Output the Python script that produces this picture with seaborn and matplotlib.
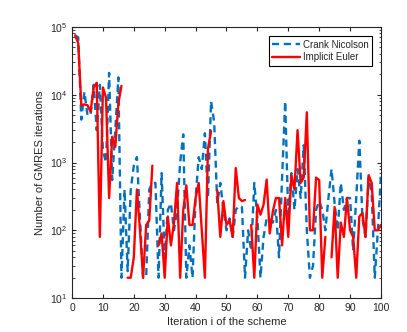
import numpy as np
import pandas as pd
import seaborn as sns
import matplotlib.pyplot as plt

nan = np.nan
iterations = list(range(1, 101))

# Crank Nicolson
crank_nicolson = [
    75000, 70000, 4300, 11000, 5000, 5000, 14000, 3000, 14000, 1500,
    1000, 21000, 550, 3000, 18000, 20, 400, 25, 400, 900,
    1200, 150, 20, 20, 400, 500, 500, 20, 700, 40,
    200, 250, 100, 200, 1000, 2600, 20, 60, 20, 300,
    1200, 800, 2700, 300, 8000, 4000, 250, 500, 200, 100,
    150, 80, 200, 230, 220, 20, 100, 50, 500, 150,
    20, 80, 150, 150, 130, 200, 40, 600, 8000, 150,
    700, 200, 800, 300, 1800, 100, 20, 30, 200, 270,
    200, 100, 300, 800, 250, 100, 500, 200, 300, 300,
    50, 300, 2100, 150, 80, 600, 350, 20, 100, 650,
]

# Implicit Euler, gaps where the line breaks
implicit_euler = [
    75000, 58000, 7000, 7200, 7000, 5600, 12800, 15000, 80, 12800,
    9000, 300, 2400, 1700, 7500, 13500, nan, 20, 20, 40,
    400, 100, 20, 120, 140, 900, nan, 60, 90, 20,
    160, 60, 130, 500, 20, 200, 460, 120, 120, 300,
    500, 100, 20, 1600, 2900, nan, 390, 80, 270, 120,
    140, 80, 830, 300, 270, 280, nan, 120, 20, 240,
    170, 240, 560, 90, 190, 300, 300, 60, 300, 80,
    650, 400, 3000, 500, 600, 5500, 100, 100, 600, 550,
    20, 80, nan, 40, 220, 20, 130, 80, 300, 100,
    80, 20, 160, 180, 80, 650, 500, 100, 100, 120,
]

frames = []
for name, vals in [("Crank Nicolson", crank_nicolson), ("Implicit Euler", implicit_euler)]:
    d = pd.DataFrame({"it": iterations, "gmres": vals, "scheme": name})
    # separate segment id for every run between missing values
    d["seg"] = d["gmres"].isna().cumsum()
    frames.append(d.dropna())
df = pd.concat(frames, ignore_index=True)

sns.set_style("ticks")
plt.rcParams["font.family"] = ["Liberation Sans", "DejaVu Sans"]
plt.rcParams["mathtext.fontset"] = "custom"
plt.rcParams["mathtext.rm"] = "Liberation Sans"

fig, ax = plt.subplots(figsize=(4.07, 3.32), dpi=100)
fig.subplots_adjust(left=0.177, right=0.936, bottom=0.102, top=0.919)

sns.lineplot(data=df, x="it", y="gmres", hue="scheme", style="scheme",
             units="seg", estimator=None, ax=ax,
             palette={"Crank Nicolson": "#0072BD", "Implicit Euler": "#FF0000"},
             dashes={"Crank Nicolson": (3, 2), "Implicit Euler": ""},
             linewidth=1.7)

ax.set_yscale("log")
ax.set_xlim(0, 100)
ax.set_ylim(10, 1e5)
ax.set_xticks(range(0, 101, 10))
ax.tick_params(which="both", direction="in", top=True, right=True, labelsize=7.5)
ax.tick_params(which="major", length=3)
ax.tick_params(which="minor", length=1.8)
for s in ax.spines.values():
    s.set_linewidth(0.8)

ax.set_xlabel("Iteration i of the scheme", fontsize=8, labelpad=3)
ax.set_ylabel("Number of GMRES iterations", fontsize=8, labelpad=3)

leg = ax.legend(loc="upper right", fontsize=7, frameon=True, fancybox=False,
                edgecolor="black", framealpha=1, handlelength=2.8,
                borderpad=0.4, labelspacing=0.3, handletextpad=0.3,
                borderaxespad=0.9)
leg.get_frame().set_linewidth(0.8)

fig.savefig("out.png", dpi=100)
